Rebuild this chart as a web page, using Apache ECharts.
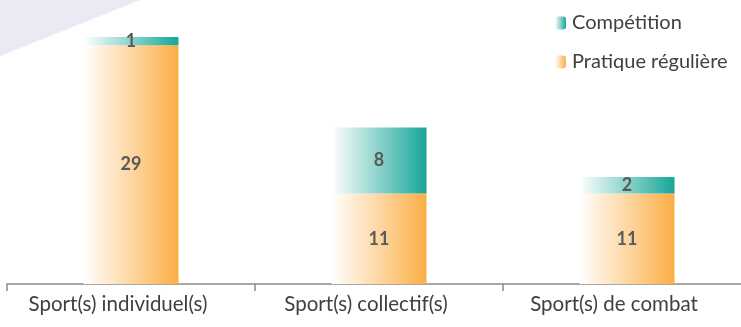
<!DOCTYPE html>
<html><head><meta charset="utf-8">
<script src="https://cdn.jsdelivr.net/npm/echarts@6/dist/echarts.min.js"></script>
<style>html,body{margin:0;padding:0;background:#fff}#c{width:741px;height:327px}</style>
</head><body><div id="c"></div>
<script>
const categories = ['Sport(s) individuel(s)', 'Sport(s) collectif(s)', 'Sport(s) de combat'];
const pratique = [29, 11, 11];
const competition = [1, 8, 2];
const seriesNames = ['Compétition', 'Pratique régulière'];
const FONT = 'Lato, "Open Sans", sans-serif';
function grad(c){return new echarts.graphic.LinearGradient(0,0,1,0,[{offset:0,color:'rgba(255,255,255,1)'},{offset:1,color:c}]);}
const orange = '#FBAE45', teal = '#17A698';
const chart = echarts.init(document.getElementById('c'), null, {renderer:'canvas'});
chart.setOption({
  animation:false,
  backgroundColor:'#fff',
  graphic:[{type:'polygon',z:-10,shape:{points:[[0,0],[140,0],[0,56]]},style:{fill:'#E9EAF3'}}],
  legend:{
    orient:'vertical', left:550, top:8, itemWidth:11, itemHeight:13, itemGap:19,
    data:[seriesNames[0], seriesNames[1]],
    textStyle:{fontFamily:FONT, fontSize:20, color:'#404040', padding:[0,0,0,1]}
  },
  grid:{left:7, width:744, top:37, bottom:43, containLabel:false, outerBoundsMode:'none'},
  xAxis:{type:'category', data:categories,
    axisLine:{lineStyle:{color:'#8c8c8c', width:1.5}},
    axisTick:{show:true, length:7, lineStyle:{color:'#8c8c8c', width:1.5}},
    axisLabel:{fontFamily:FONT, fontSize:20.5, color:'#404040', margin:10, padding:[0,26,0,0]}},
  yAxis:{type:'value', min:0, max:30, show:false, splitLine:{show:false}},
  series:[
    {name:seriesNames[1], type:'bar', stack:'a', barWidth:95, data:pratique,
     itemStyle:{color:grad(orange)},
     label:{show:true, position:'inside', fontFamily:FONT, fontWeight:'bold', fontSize:18, color:'#595959'}},
    {name:seriesNames[0], type:'bar', stack:'a', barWidth:95, data:competition,
     itemStyle:{color:grad(teal)},
     label:{show:true, position:'inside', fontFamily:FONT, fontWeight:'bold', fontSize:18, color:'#595959'}}
  ]
});
</script></body></html>
